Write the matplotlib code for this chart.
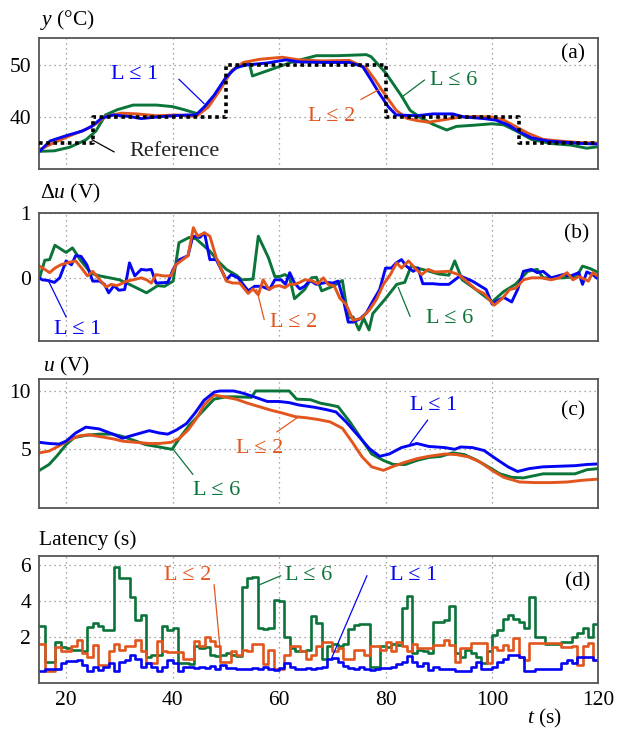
import numpy as np
import matplotlib
matplotlib.use("Agg")
import matplotlib.pyplot as plt

plt.rcParams['font.family'] = ['Liberation Serif', 'DejaVu Serif']
plt.rcParams['mathtext.fontset'] = 'custom'
plt.rcParams['mathtext.rm'] = 'Liberation Serif'
plt.rcParams['mathtext.it'] = 'Liberation Serif:italic'

BLUE = '#0505f5'
ORANGE = '#e2561e'
GREEN = '#0b7439'

# reference temperature (step)
ref_t = [15, 25, 50, 80, 105, 120]
ref_v = [35, 40, 50, 40, 35, 35]

# (a) output temperature y, (t, value)
y_l1 = np.array([(15, 33.4), (17, 35.4), (20, 36.4), (23, 37.3), (24.8, 38.2), (26.7, 39.8),
                 (28.9, 40.4), (31.9, 40.1), (34.1, 39.7), (37, 40.0), (40, 40.25), (43, 40.4),
                 (44.4, 40.4), (45.9, 41.9), (47.8, 44.2), (50, 47.6), (51.9, 49.5), (53.8, 50.0),
                 (57.8, 50.4), (61.3, 51.0), (63.7, 50.6), (68.1, 50.5), (73.2, 50.5), (75.7, 49.7),
                 (77.2, 47.3), (78.8, 44.6), (80.5, 42.0), (82, 40.4), (85.9, 40.25), (88.9, 40.6),
                 (92.6, 40.6), (94.8, 40.0), (98.5, 39.7), (100.7, 39.4), (103, 38.5), (105.2, 37.1),
                 (107.4, 36.0), (110.4, 35.4), (114.1, 35.1), (117, 34.9), (120, 34.8)])
y_l2 = np.array([(15, 33.7), (17.8, 35.1), (20.7, 36.4), (23.7, 37.6), (25.6, 38.7), (27.4, 40.1),
                 (30.4, 40.75), (33.3, 40.6), (37, 40.25), (40.7, 40.4), (44.4, 40.1), (46.7, 41.9),
                 (48.9, 45.2), (51.1, 48.9), (53.3, 50.5), (56.3, 51.1), (60.6, 51.5), (63.7, 51.0),
                 (68.1, 50.8), (73.2, 50.9), (76.4, 49.4), (78, 47.2), (79.5, 44.9), (82, 41.3),
                 (84, 39.75), (86, 39.3), (88.1, 39.0), (91.1, 39.5), (94.1, 40.0), (97, 40.1),
                 (100, 40.0), (102.2, 39.4), (104.4, 38.2), (106.7, 36.9), (109.6, 35.7), (112.6, 35.4),
                 (116.3, 35.1), (120, 35.0)])
y_l6 = np.array([(15, 33.4), (17.8, 33.5), (20.7, 34.2), (23.7, 35.6), (25.6, 37.3), (27.4, 40.4),
                 (29.6, 41.4), (32.6, 42.3), (37, 42.3), (40, 42.0), (42.2, 41.4), (44.8, 40.6),
                 (46.7, 42.3), (48.9, 45.7), (51.1, 48.9), (53.3, 50.2), (54.4, 50.4), (55, 47.9),
                 (57.8, 48.9), (60, 49.7), (62.5, 50.6), (67, 51.8), (71.1, 51.8), (76.4, 52.0),
                 (77.3, 51.6), (80.1, 48.4), (81.5, 46.3), (83.1, 43.9), (84.6, 41.3), (86.7, 39.8),
                 (88.9, 38.6), (91.5, 37.5), (93.3, 38.2), (96.3, 38.4), (100, 38.7), (102.2, 38.5),
                 (104.4, 37.4), (107.4, 35.7), (111.1, 34.9), (114.8, 34.6), (117.8, 34.0), (120, 34.3)])

# (b) control increment du, (t, value)
du_l1 = np.array([(15, 0.0), (15.5, -0.03), (16.6, -0.04), (17.8, -0.07), (18.8, 0.0), (20.0, 0.26),
                  (21.0, 0.2), (21.8, 0.34), (22.8, 0.33), (23.9, 0.2), (25.0, -0.05), (26.3, -0.05),
                  (27.2, -0.1), (28.0, -0.23), (29.0, -0.12), (29.9, -0.19), (31.0, -0.18), (31.9, 0.23),
                  (32.9, 0.03), (34.1, 0.13), (35.1, 0.12), (36.0, 0.13), (36.9, -0.08), (39.1, -0.07),
                  (40.1, 0.13), (41.3, 0.28), (42.9, 0.34), (43.8, 0.64), (45.1, 0.62), (46.0, 0.69),
                  (47.0, 0.28), (48.2, 0.28), (50.1, -0.03), (51.0, 0.05), (52.3, 0.0), (54.2, -0.2),
                  (55.4, -0.13), (56.7, -0.13), (58.2, -0.18), (59.2, -0.03), (60.4, -0.03), (61.2, -0.1),
                  (62.0, 0.08), (62.9, -0.08), (63.9, -0.17), (64.8, -0.13), (65.8, -0.04), (67.0, -0.1),
                  (68.9, -0.07), (70.1, -0.08), (71.1, -0.05), (72.0, -0.31), (73.0, -0.68), (73.9, -0.68),
                  (75.2, -0.63), (76.4, -0.54), (77.6, -0.36), (78.9, -0.18), (80.0, 0.15), (81.1, 0.15),
                  (82.0, 0.23), (83.0, 0.28), (83.9, 0.18), (85.2, 0.1), (86.1, 0.15), (87.0, -0.09),
                  (88.9, -0.09), (90.2, -0.1), (91.9, -0.1), (94.0, 0.03), (96.3, -0.05), (98.9, -0.18),
                  (100.0, -0.4), (101.0, -0.35), (102.2, -0.3), (103.7, -0.37), (104.8, -0.18), (105.9, 0.1),
                  (107.4, 0.13), (108.5, 0.08), (109.6, 0.1), (111.1, 0.0), (113.3, 0.05), (114.8, 0.03),
                  (116.3, 0.08), (117.0, -0.1), (117.8, 0.09), (118.9, 0.05), (120, -0.02)])
du_l2 = np.array([(15, 0.18), (15.8, 0.14), (16.9, 0.08), (17.9, 0.15), (19, 0.2), (20.2, 0.23),
                  (21.8, 0.26), (23, 0.14), (24, 0.03), (25, 0.1), (26.3, -0.03), (27.5, -0.14),
                  (28.5, -0.1), (29.5, -0.12), (30.4, -0.09), (31.4, -0.05), (32.6, -0.03), (34.1, 0.0),
                  (35.1, -0.03), (36, -0.08), (36.9, 0.05), (38.2, 0.03), (39.7, 0.03), (40.6, 0.2),
                  (41.9, 0.28), (42.9, 0.34), (43.9, 0.77), (44.7, 0.64), (46, 0.69), (47, 0.64),
                  (48.2, 0.31), (50.1, -0.05), (51.3, -0.08), (52.6, -0.08), (54.2, -0.24), (55.1, -0.17),
                  (56.1, -0.26), (57, -0.03), (58.1, -0.18), (59.2, -0.13), (60.1, -0.12), (61.1, -0.15),
                  (62, -0.1), (62.9, -0.1), (63.9, -0.07), (64.8, -0.03), (66.1, -0.04), (67.3, -0.09),
                  (68.3, 0.0), (69.2, -0.1), (70.4, -0.13), (71.4, -0.31), (72.6, -0.41), (73.9, -0.65),
                  (75.5, -0.62), (77, -0.49), (78.3, -0.33), (79.6, -0.1), (80.9, 0.05), (82.1, 0.23),
                  (83, 0.15), (84.3, 0.26), (85.5, 0.15), (86.8, 0.05), (88, 0.13), (89.3, 0.09),
                  (91.9, 0.1), (93.7, 0.05), (95.2, -0.05), (97, -0.18), (98.5, -0.24), (100.4, -0.42),
                  (101.9, -0.32), (103.3, -0.18), (104.4, -0.16), (105.9, -0.03), (107.4, 0.0), (109.3, 0.0),
                  (111.1, -0.03), (112.6, 0.0), (114.1, 0.08), (115.2, -0.03), (116.3, 0.02), (118.1, -0.05),
                  (118.9, 0.08), (120, 0.02)])
du_l6 = np.array([(15, 0.0), (16, 0.27), (16.9, 0.28), (17.9, 0.5), (20, 0.39), (21.2, 0.46),
                  (22.8, 0.26), (24.7, 0.07), (26.3, 0.03), (28.2, 0.0), (30, -0.03), (31.9, -0.1),
                  (35.1, -0.23), (37.2, -0.12), (38.5, -0.13), (40.1, -0.05), (41.2, 0.54), (43.1, 0.62),
                  (44.4, 0.6), (47, 0.41), (48.5, 0.26), (50.1, 0.13), (52, 0.04), (53, -0.03),
                  (55.1, -0.02), (56.1, 0.64), (58, 0.31), (59.2, 0.02), (60.1, 0.02), (61.1, 0.05),
                  (62, 0.0), (62.9, -0.32), (64.8, -0.18), (66.1, 0.0), (67, 0.01), (68, -0.2),
                  (70.1, -0.13), (71.9, -0.04), (73, -0.62), (73.9, -0.6), (75, -0.8), (75.9, -0.62),
                  (76.9, -0.8), (77.6, -0.55), (80.1, -0.31), (82.1, -0.1), (83.6, -0.07), (84.8, 0.18),
                  (86.4, 0.14), (88.3, 0.1), (89.9, 0.06), (91.9, 0.04), (93, 0.26), (94.4, -0.03),
                  (97, -0.18), (100, -0.37), (102.2, -0.21), (104.4, -0.1), (106.7, 0.1), (108.5, 0.13),
                  (109.6, 0.0), (113.3, 0.0), (115.9, 0.02), (117, 0.18), (118.5, 0.14), (120, 0.08)])

# (c) control signal u, (t, value)
u_l1 = np.array([(15, 5.6), (16.8, 5.5), (18.7, 5.45), (20, 5.7), (21.8, 6.4), (23.7, 6.9),
                 (26.2, 6.75), (28.8, 6.3), (30.6, 5.95), (32.5, 6.2), (35.6, 6.6), (37.5, 6.4),
                 (39.1, 6.3), (40.7, 6.65), (42.6, 7.2), (44.2, 8.1), (45.9, 9.2), (47.8, 9.9),
                 (48.9, 10.0), (51.5, 10.0), (53.3, 9.8), (55.6, 9.45), (57.8, 9.1), (60, 9.1),
                 (61.9, 9.0), (63.7, 8.8), (66.7, 8.6), (68.9, 8.4), (70.7, 8.2), (72.6, 7.35),
                 (74.8, 6.2), (77, 5.05), (78.9, 4.4), (80.7, 4.6), (83, 5.15), (85.9, 5.5),
                 (88.1, 5.25), (91.1, 5.15), (93, 5.0), (94.1, 5.2), (96.3, 5.15), (98.5, 4.9),
                 (100.7, 4.2), (103, 3.5), (104.8, 3.1), (107, 3.35), (109.6, 3.5), (112.6, 3.55),
                 (115.6, 3.6), (117.8, 3.7), (120, 3.75)])
u_l2 = np.array([(15, 4.7), (16.8, 4.85), (18.7, 5.3), (20.6, 5.8), (22.4, 6.15), (24.3, 6.25),
                 (26.2, 6.1), (28.8, 5.9), (30.6, 5.7), (33.1, 5.6), (35.6, 5.5), (37.5, 5.5),
                 (39.7, 5.6), (41.3, 5.95), (42.9, 6.65), (44.5, 7.65), (45.9, 8.8), (47.8, 9.65),
                 (49.6, 9.5), (51.9, 9.3), (54.1, 8.95), (56.3, 8.65), (58.5, 8.35), (60.7, 8.1),
                 (63, 7.8), (65.2, 7.7), (67.4, 7.55), (69.6, 7.35), (71.9, 6.8), (73.7, 5.65),
                 (75.6, 4.35), (77.4, 3.5), (79.6, 3.2), (81.5, 3.55), (83.7, 3.9), (85.9, 4.2),
                 (88.1, 4.4), (91.1, 4.6), (93.3, 4.55), (95.6, 4.35), (97.8, 3.9), (100, 3.2),
                 (102.2, 2.6), (105.2, 2.2), (108.1, 2.15), (111.1, 2.15), (114.1, 2.2), (117, 2.35),
                 (120, 2.45)])
u_l6 = np.array([(15, 3.2), (16.8, 3.7), (18.4, 4.5), (20, 5.4), (21.5, 6.0), (23.7, 6.2),
                 (26.2, 6.3), (28.8, 6.3), (30.6, 6.1), (32.5, 5.8), (35, 5.4), (37.5, 5.2),
                 (39.9, 5.0), (41.3, 5.95), (43.2, 7.1), (45.1, 8.0), (47.8, 9.3), (50, 9.5),
                 (51.9, 9.5), (54.8, 9.45), (55.6, 10.0), (59.3, 10.0), (61.9, 10.0), (63.3, 9.3),
                 (65.9, 9.25), (67.8, 8.95), (69.6, 8.8), (71.1, 8.65), (73.3, 7.35), (75.6, 5.8),
                 (77.4, 4.6), (79.6, 4.05), (81.5, 3.7), (83.7, 3.7), (85.9, 4.05), (88.1, 4.3),
                 (90.4, 4.4), (92.6, 4.7), (94.8, 4.55), (97, 4.1), (99.3, 3.5), (101.5, 2.9),
                 (103.7, 2.6), (105.9, 2.55), (109.6, 2.9), (112.6, 2.9), (115.6, 2.9), (117.8, 3.25),
                 (120, 3.35)])

# (d) latency, one value per second from t = 15 s to 120 s
lat_t = np.arange(15, 121)
lat_l1 = [0.1, 0.2, 0.25, 0.25, 0.55, 0.65, 0.65, 0.75, 0.45, 0.13,
          0.35, 0.17, 0.35, 0.55, 0.1, 0.6, 0.75, 1.0, 0.8, 0.35,
          0.55, 0.35, 0.13, 0.35, 0.72, 0.55, 0.1, 0.35, 0.35, 0.3,
          0.35, 0.3, 0.4, 0.25, 0.45, 0.3, 0.3, 0.2, 0.25, 0.2,
          0.3, 0.25, 0.35, 0.2, 0.15, 0.3, 0.55, 0.35, 0.2, 0.25,
          0.3, 0.2, 0.3, 0.35, 0.8, 0.85, 0.6, 0.4, 0.3, 0.2,
          0.35, 0.2, 0.15, 0.25, 0.3, 0.3, 0.35, 0.5, 0.6, 0.95,
          0.6, 0.4, 0.55, 0.17, 0.35, 0.2, 0.2, 0.2, 0.1, 0.1,
          0.1, 0.35, 0.63, 0.25, 0.25, 0.35, 0.63, 0.8, 1.0, 1.0,
          0.87, 0.13, 0.13, 0.25, 0.25, 0.25, 0.25, 0.25, 0.55, 0.75,
          0.55, 0.9, 0.9, 0.9, 0.72, 0.72]
lat_l2 = [1.6, 0.1, 0.1, 1.45, 1.2, 1.2, 1.5, 1.83, 1.1, 0.9,
          1.55, 0.45, 0.45, 1.2, 1.6, 1.3, 1.5, 1.5, 1.83, 1.2,
          0.55, 0.55, 1.8, 1.2, 1.15, 1.15, 1.15, 0.8, 0.8, 1.8,
          1.5, 2.0, 1.8, 1.5, 0.6, 0.6, 1.2, 1.0, 1.3, 1.2,
          1.6, 1.6, 0.5, 1.3, 0.25, 0.25, 1.0, 1.5, 1.5, 1.2,
          0.8, 1.0, 1.5, 1.7, 1.7, 1.2, 1.4, 0.8, 0.8, 1.3,
          1.3, 1.0, 1.5, 1.5, 1.3, 1.7, 1.2, 1.7, 1.5, 1.2,
          1.6, 1.4, 1.4, 1.37, 1.55, 1.55, 1.83, 1.55, 0.63, 1.37,
          1.37, 1.65, 1.65, 1.65, 0.55, 1.46, 1.28, 1.55, 1.28, 1.97,
          0.9, 0.72, 1.65, 1.65, 1.65, 1.65, 1.65, 1.65, 1.46, 1.46,
          1.5, 0.45, 1.5, 1.65, 0.72, 0.72]
lat_l6 = [2.6, 0.6, 0.6, 1.7, 1.45, 1.4, 1.3, 1.3, 1.2, 2.55,
          2.8, 2.6, 2.4, 2.4, 5.9, 5.3, 5.3, 4.2, 2.95, 3.2,
          0.9, 1.0, 1.0, 2.6, 2.4, 2.5, 0.55, 0.55, 0.5, 1.5,
          1.4, 1.45, 1.0, 0.95, 1.0, 1.1, 1.0, 0.95, 4.8, 5.3,
          5.35, 2.5, 2.45, 2.5, 4.05, 4.0, 2.0, 1.4, 1.2, 1.2,
          1.3, 3.15, 2.8, 0.8, 1.5, 1.6, 1.5, 1.6, 2.45, 2.65,
          2.7, 2.7, 0.35, 0.35, 1.5, 1.45, 1.6, 1.55, 3.6, 4.3,
          1.1, 1.3, 1.2, 1.1, 2.85, 2.85, 2.95, 3.7, 1.1, 0.9,
          1.28, 1.1, 0.87, 0.54, 1.2, 2.1, 2.4, 3.0, 3.25, 3.0,
          2.85, 2.5, 4.25, 2.0, 2.0, 1.6, 1.6, 1.6, 1.7, 1.75,
          2.0, 2.25, 2.5, 2.0, 2.7, 3.2]

FS = 15.5
LFS = 16
fig = plt.figure(figsize=(6.17, 7.31), dpi=100)
L, W = 0.064, 0.906
ax_a = fig.add_axes([L, 0.7688, W, 0.1792])
ax_b = fig.add_axes([L, 0.5335, W, 0.1755])
ax_c = fig.add_axes([L, 0.3055, W, 0.1761])
ax_d = fig.add_axes([L, 0.0657, W, 0.1737])

for ax in (ax_a, ax_b, ax_c, ax_d):
    ax.set_xlim(15, 120)
    ax.set_xticks([20, 40, 60, 80, 100, 120])
    ax.grid(True, color='#8a8a8a', linestyle=(0, (1, 3)), linewidth=0.9)
    ax.tick_params(length=0, labelsize=FS, pad=6)
    for s in ax.spines.values():
        s.set_color('#555555')
        s.set_linewidth(1.3)
    if ax is not ax_d:
        ax.tick_params(labelbottom=False)

lw = 2.1
# (a)
ax_a.step(ref_t, ref_v, where='post', color='black', lw=2.6, linestyle=(0, (1, 1)), zorder=5)
ax_a.plot(y_l6[:, 0], y_l6[:, 1], color=GREEN, lw=lw)
ax_a.plot(y_l2[:, 0], y_l2[:, 1], color=ORANGE, lw=lw)
ax_a.plot(y_l1[:, 0], y_l1[:, 1], color=BLUE, lw=lw)
ax_a.set_ylim(30, 55.2)
ax_a.set_yticks([40, 50])
ax_a.text(32.8, 48.2, 'L ≤ 1', color=BLUE, fontsize=LFS, ha='center', va='center')
ax_a.plot([41.2, 45.9], [47.25, 42.6], color=BLUE, lw=0.9)
ax_a.text(40.3, 33.4, 'Reference', color='#222222', fontsize=LFS, ha='center', va='center')
ax_a.plot([24.9, 29.0], [35.6, 33.3], color='black', lw=0.9)
ax_a.text(69.9, 40.1, 'L ≤ 2', color=ORANGE, fontsize=LFS, ha='center', va='center')
ax_a.plot([75.4, 78.8], [43.4, 45.3], color=ORANGE, lw=0.9)
ax_a.text(92.8, 47.0, 'L ≤ 6', color=GREEN, fontsize=LFS, ha='center', va='center')
ax_a.plot([87.3, 83.0], [47.1, 43.8], color=GREEN, lw=0.9)
ax_a.text(0.976, 0.878, '(a)', transform=ax_a.transAxes, fontsize=FS, ha='right', va='center')

# (b)
ax_b.plot(du_l6[:, 0], du_l6[:, 1], color=GREEN, lw=lw)
ax_b.plot(du_l1[:, 0], du_l1[:, 1], color=BLUE, lw=lw)
ax_b.plot(du_l2[:, 0], du_l2[:, 1], color=ORANGE, lw=lw)
ax_b.set_ylim(-0.97, 1.0)
ax_b.set_yticks([0, 1])
ax_b.text(22.1, -0.79, 'L ≤ 1', color=BLUE, fontsize=LFS, ha='center', va='center')
ax_b.plot([20.0, 16.7], [-0.6, -0.05], color=BLUE, lw=0.9)
ax_b.text(62.8, -0.68, 'L ≤ 2', color=ORANGE, fontsize=LFS, ha='center', va='center')
ax_b.plot([57.2, 55.8], [-0.64, -0.18], color=ORANGE, lw=0.9)
ax_b.text(92.0, -0.63, 'L ≤ 6', color=GREEN, fontsize=LFS, ha='center', va='center')
ax_b.plot([84.6, 82.4], [-0.59, -0.15], color=GREEN, lw=0.9)
ax_b.text(0.983, 0.838, '(b)', transform=ax_b.transAxes, fontsize=FS, ha='right', va='center')

# (c)
ax_c.plot(u_l6[:, 0], u_l6[:, 1], color=GREEN, lw=lw)
ax_c.plot(u_l2[:, 0], u_l2[:, 1], color=ORANGE, lw=lw)
ax_c.plot(u_l1[:, 0], u_l1[:, 1], color=BLUE, lw=lw)
ax_c.set_ylim(0, 11.03)
ax_c.set_yticks([5, 10])
ax_c.text(89.1, 8.75, 'L ≤ 1', color=BLUE, fontsize=LFS, ha='center', va='center')
ax_c.plot([87.9, 84.5], [7.5, 5.4], color=BLUE, lw=0.9)
ax_c.text(56.3, 5.07, 'L ≤ 2', color=ORANGE, fontsize=LFS, ha='center', va='center')
ax_c.plot([59.6, 63.7], [6.5, 7.8], color=ORANGE, lw=0.9)
ax_c.text(48.3, 1.5, 'L ≤ 6', color=GREEN, fontsize=LFS, ha='center', va='center')
ax_c.plot([43.8, 40.2], [2.86, 4.95], color=GREEN, lw=0.9)
ax_c.text(0.976, 0.752, '(c)', transform=ax_c.transAxes, fontsize=FS, ha='right', va='center')

# (d)
ax_d.step(lat_t, lat_l6, where='post', color=GREEN, lw=1.9)
ax_d.step(lat_t, lat_l2, where='post', color=ORANGE, lw=1.9)
ax_d.step(lat_t, lat_l1, where='post', color=BLUE, lw=1.9)
ax_d.set_ylim(-0.55, 6.5)
ax_d.set_yticks([2, 4, 6])
ax_d.text(42.8, 5.4, 'L ≤ 2', color=ORANGE, fontsize=LFS, ha='center', va='center')
ax_d.plot([47.8, 49.0], [4.9, 1.1], color=ORANGE, lw=0.9)
ax_d.text(65.5, 5.4, 'L ≤ 6', color=GREEN, fontsize=LFS, ha='center', va='center')
ax_d.plot([60.3, 56.3], [5.4, 4.9], color=GREEN, lw=0.9)
ax_d.text(85.2, 5.4, 'L ≤ 1', color=BLUE, fontsize=LFS, ha='center', va='center')
ax_d.plot([76.5, 69.9], [5.4, 0.85], color=BLUE, lw=0.9)
ax_d.text(0.985, 0.80, '(d)', transform=ax_d.transAxes, fontsize=FS, ha='right', va='center')

# axis titles
fig.text(40 / 617, 1 - 20.5 / 731, r'$y$ (°C)', fontsize=FS, ha='left', va='center')
fig.text(40 / 617, 1 - 193 / 731, r'$\Delta u$ (V)', fontsize=FS, ha='left', va='center')
fig.text(43 / 617, 1 - 366.5 / 731, r'$u$ (V)', fontsize=FS, ha='left', va='center')
fig.text(39 / 617, 1 - 540 / 731, 'Latency (s)', fontsize=FS, ha='left', va='center')
fig.text(545 / 617, 1 - 718 / 731, r'$t$ (s)', fontsize=FS, ha='center', va='center')

fig.savefig('out.png', dpi=100)
